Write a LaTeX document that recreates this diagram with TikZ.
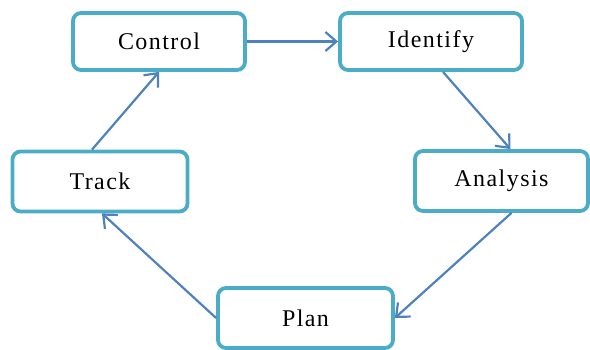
\documentclass[tikz,border=0pt]{standalone}
\usepackage{fontspec}
\setmainfont[LetterSpace=6]{Liberation Serif}
\usetikzlibrary{arrows.meta}
\definecolor{boxline}{RGB}{75,172,198}
\definecolor{flow}{RGB}{79,129,189}
\tikzset{
  stage/.style={draw=boxline, line width=3.8pt, rounded corners=8pt, fill=white,
    inner sep=0pt, font=\fontsize{24}{27}\selectfont},
  link/.style={draw=flow, line width=2.2pt,
    -{Straight Barb[length=11pt,width=19pt,line width=2.2pt]}},
}
\begin{document}
\begin{tikzpicture}[x=1pt,y=-1pt]
  \useasboundingbox (0,0) rectangle (590,350);
  \node[stage, minimum width=172pt, minimum height=57pt] (control)  at (159,41.5)  {Control};
  \node[stage, minimum width=182pt, minimum height=57pt] (identify) at (431,41.5)  {Identify};
  \node[stage, minimum width=173pt, minimum height=60pt] (analysis) at (501.5,181) {Analysis};
  \node[stage, minimum width=175pt, minimum height=60pt] (plan)     at (305.5,318) {Plan};
  \node[stage, minimum width=175pt, minimum height=60pt] (track)    at (100,181.5) {Track};

  \draw[link] (control.east) -- (identify.west);
  \draw[link] ([xshift=12pt]identify.south) -- ([xshift=9pt]analysis.north);
  \draw[link] ([xshift=10pt]analysis.south) -- (plan.east);
  \draw[link] (plan.west) -- ([xshift=2pt]track.south);
  \draw[link] ([xshift=-8pt]track.north) -- (control.south);
\end{tikzpicture}
\end{document}
